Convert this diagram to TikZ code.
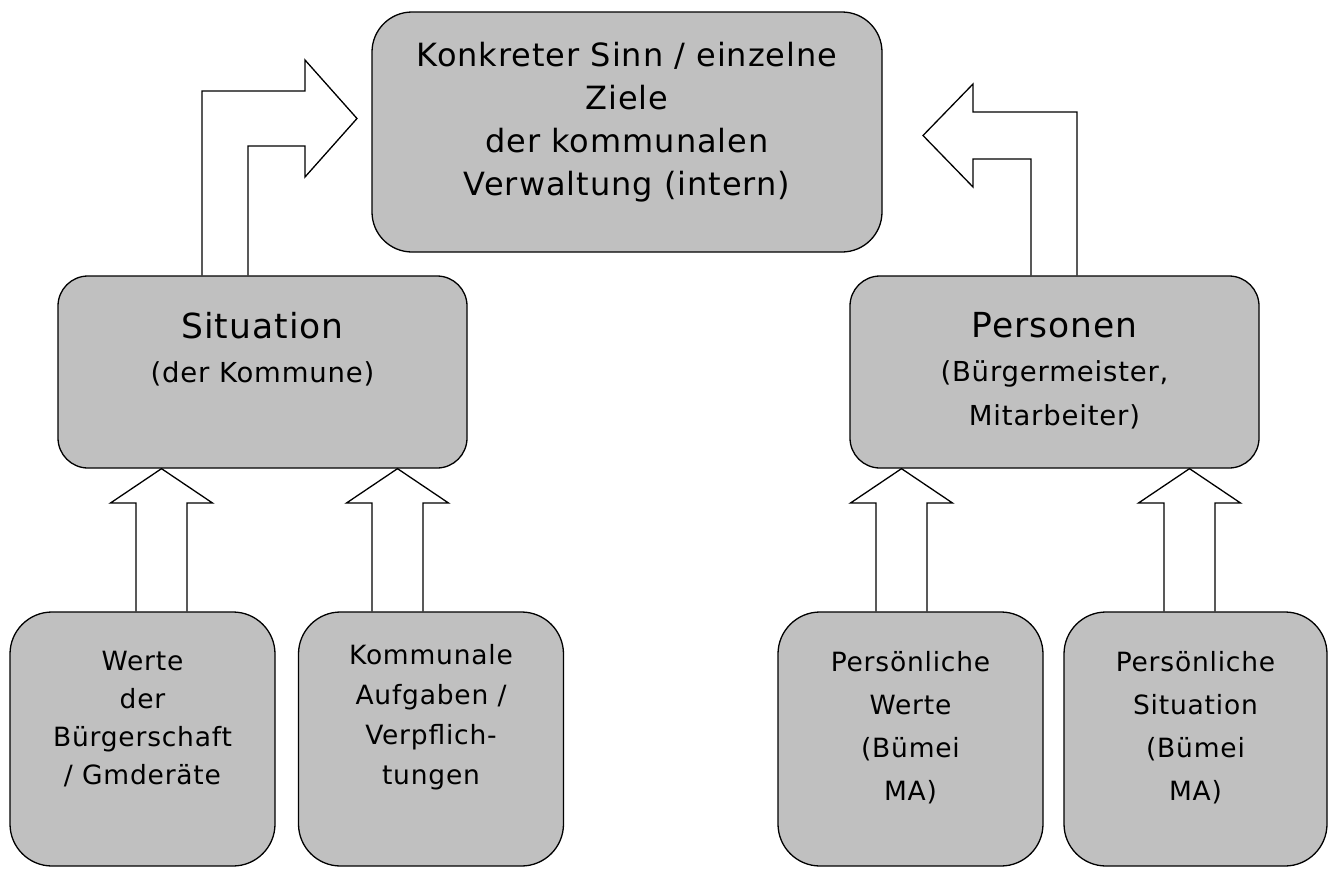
\documentclass[tikz,border=0pt]{standalone}
\usepackage{fontspec}
\usepackage{xcolor}
\usepackage{tikz}
\setmainfont[LetterSpace=3]{DejaVu Sans}
\definecolor{boxgray}{RGB}{192,192,192}

\begin{document}
\begin{tikzpicture}[x=1pt,y=-1pt,
		box/.style={draw=black, line width=1.3pt, fill=boxgray, rounded corners=#1, inner sep=0pt},
		box/.default=40pt,
		txt/.style={align=center, inner sep=0pt},
		blockarrow/.style={draw=black, line width=1.3pt, line join=miter}]
		\useasboundingbox (0,0) rectangle (1328,870);
		
		% boxes
		\node[box, minimum width=510pt, minimum height=240pt] (ziel) at (627,132) {};
		\node[box=30pt, minimum width=409pt, minimum height=192pt] (sit) at (262.5,372) {};
		\node[box=30pt, minimum width=409pt, minimum height=192pt] (pers) at (1054.5,372) {};
		\node[box=42pt, minimum width=265pt, minimum height=254pt] (werte) at (142.5,739) {};
		\node[box=42pt, minimum width=265pt, minimum height=254pt] (aufg) at (431,739) {};
		\node[box=42pt, minimum width=265pt, minimum height=254pt] (pwerte) at (910.5,739) {};
		\node[box=42pt, minimum width=263pt, minimum height=254pt] (psit) at (1195.5,739) {};
		
		% texts
		\node[txt, font=\fontsize{32}{43}\selectfont] (zieltxt) at (627,122) {Konkreter Sinn / einzelne\\Ziele\\der kommunalen\\Verwaltung (intern)};
		\node[txt, font=\fontsize{27.5}{44}\selectfont] (sittxt) at (262.5,349) {{\fontsize{34.5}{40}\selectfont Situation}\\(der Kommune)};
		\node[txt, font=\fontsize{27.5}{44}\selectfont] (perstxt) at (1054.5,371) {{\fontsize{34.5}{40}\selectfont Personen}\\(Bürgermeister,\\Mitarbeiter)};
		\node[txt, font=\fontsize{26.5}{38}\selectfont] (wertetxt) at (142.5,719) {Werte\\der\\Bürgerschaft\\/ Gmderäte};
		\node[txt, font=\fontsize{26.5}{40}\selectfont] (aufgtxt) at (431,717) {Kommunale\\Aufgaben /\\Verpflich-\\tungen};
		\node[txt, font=\fontsize{26.5}{43}\selectfont] (pwertetxt) at (910.5,728) {Persönliche\\Werte\\(Bümei\\MA)};
		\node[txt, font=\fontsize{26.5}{43}\selectfont] (psittxt) at (1195.5,728) {Persönliche\\Situation\\(Bümei\\MA)};
		
		% block arrows up
		\foreach \x/\src/\dst in {161.5/werte/sit, 397.5/aufg/sit, 901.5/pwerte/pers, 1189.5/psit/pers}
		\draw[blockarrow] (\x-25.5,0 |- \src.north) -- (\x-25.5,503) -- (\x-51,503) -- (\x,0 |- \dst.south)
			-- (\x+51,503) -- (\x+25.5,503) -- (\x+25.5,0 |- \src.north);
		
		% bent arrows to the top box
		\draw[blockarrow] (202,0 |- sit.north) -- (202,91) -- (305,91) -- (305,60) -- (357,118.5)
			-- (305,177) -- (305,146) -- (248,146) -- (248,0 |- sit.north);
		\draw[blockarrow] (1077,0 |- pers.north) -- (1077,112) -- (973,112) -- (973,84) -- (923,135.5)
			-- (973,187) -- (973,159) -- (1031,159) -- (1031,0 |- pers.north);
		
	\end{tikzpicture}
\end{document}
